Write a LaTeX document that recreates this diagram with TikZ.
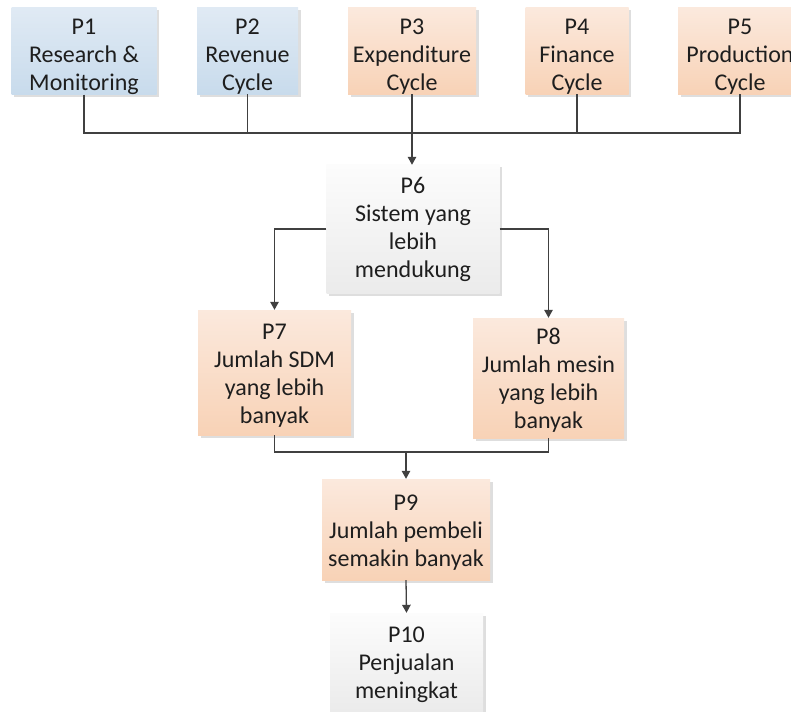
\documentclass[tikz,border=0pt]{standalone}
\usepackage{fontspec}
\setmainfont{Carlito}
\usetikzlibrary{arrows.meta,shadows}
\definecolor{txt}{HTML}{1E1E1E}
\definecolor{ln}{HTML}{404040}
\newcommand{\myTopStrut}{\rule{0pt}{26.5pt}}
\newcommand{\myMidStrut}{\rule{0pt}{21.5pt}}
\begin{document}
\begin{tikzpicture}[x=1pt,y=-1pt,
  box/.style={rectangle, inner sep=0pt, align=center, text=txt,
    font=\fontsize{24}{28}\selectfont,
    drop shadow={shadow xshift=2.5pt, shadow yshift=-2.5pt, fill=black!13, opacity=1}},
  bluebox/.style={box, top color=blue1, bottom color=blue2},
  orangebox/.style={box, top color=or1, bottom color=or2},
  graybox/.style={box, top color=gr1, bottom color=gr2},
  conn/.style={draw=ln, line width=1.3pt},
  arr/.style={conn, -{Triangle[length=8pt,width=8.5pt]}}]
\definecolor{blue1}{HTML}{E0EAF4}
\definecolor{blue2}{HTML}{C8DBEC}
\definecolor{or1}{HTML}{FBE9DD}
\definecolor{or2}{HTML}{F8D2B6}
\definecolor{gr1}{HTML}{FCFCFC}
\definecolor{gr2}{HTML}{EBEBEB}
\clip (0,0) rectangle (791,711);
\fill[white] (0,0) rectangle (791,711);

\node[bluebox, minimum width=145pt, minimum height=84pt] (p1) at (84,51) {\myTopStrut P1\\Research \&\\Monitoring};
\node[bluebox, minimum width=101pt, minimum height=84pt] (p2) at (247.5,51) {\myTopStrut P2\\Revenue\\Cycle};
\node[orangebox, minimum width=128pt, minimum height=84pt] (p3) at (412,51) {\myTopStrut P3\\Expenditure\\Cycle};
\node[orangebox, minimum width=103pt, minimum height=84pt] (p4) at (577,51) {\myTopStrut P4\\Finance\\Cycle};
\node[orangebox, minimum width=124pt, minimum height=84pt] (p5) at (740,51) {\myTopStrut P5\\Production\\Cycle};

\node[graybox, minimum width=173pt, minimum height=128pt] (p6) at (413,229) {P6\\Sistem yang\\lebih\\mendukung};
\node[orangebox, minimum width=153pt, minimum height=125pt] (p7) at (274.5,372.5) {\myMidStrut P7\\Jumlah SDM\\yang lebih\\banyak};
\node[orangebox, minimum width=151pt, minimum height=120pt] (p8) at (548.5,378) {\myMidStrut P8\\Jumlah mesin\\yang lebih\\banyak};
\node[orangebox, minimum width=168pt, minimum height=101pt] (p9) at (406,529.5) {\myMidStrut P9\\Jumlah pembeli\\semakin banyak};
\node[graybox, minimum width=153pt, minimum height=98pt] (p10) at (406.5,662) {\myMidStrut P10\\Penjualan\\meningkat};

\coordinate (bus1) at (0,133);
\coordinate (bus2) at (0,452);

\draw[conn] (p1.south) -- (p1.south |- bus1) -- (p5.south |- bus1) -- (p5.south);
\draw[conn] (p2.south) -- (p2.south |- bus1);
\draw[conn] (p4.south) -- (p4.south |- bus1);
\draw[arr] (p3.south) -- (p3.south |- p6.north);

\draw[arr] (p6.west) -| (p7.north);
\draw[arr] (p6.east) -| (p8.north);

\draw[conn] (p7.south) -- (p7.south |- bus2) -- (p8.south |- bus2) -- (p8.south);
\draw[arr] (p9.north |- bus2) -- (p9.north);
\draw[arr] (p9.south) -- (p10.north);
\end{tikzpicture}
\end{document}
